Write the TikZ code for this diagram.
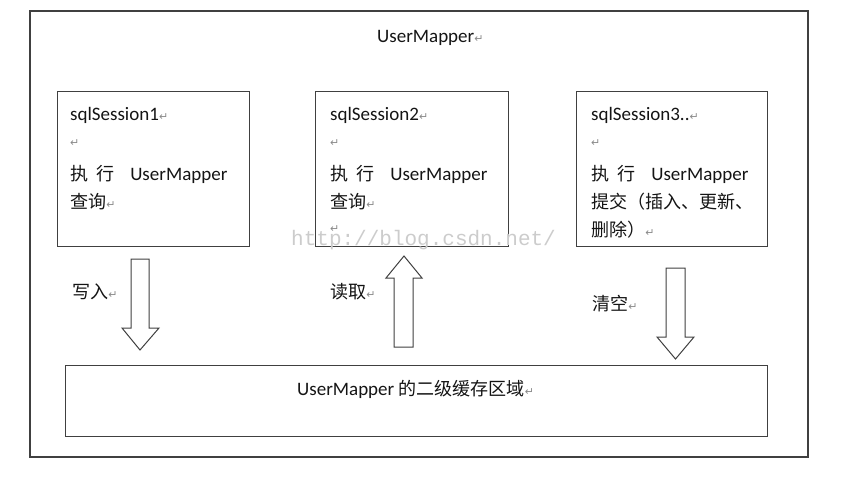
\documentclass[tikz,border=0pt]{standalone}
\usepackage{fontspec}
\setmainfont{Carlito}
\newfontfamily\cjk[Scale=0.95]{Noto Sans CJK SC}
\newfontfamily\dejavu{DejaVu Sans}
\newfontfamily\wmfont{Liberation Mono}
\definecolor{linecol}{HTML}{404040}
\definecolor{txtcol}{HTML}{141414}
\definecolor{retcol}{HTML}{8A8A8A}
\newcommand{\ret}{{\color{retcol}\dejavu\fontsize{11}{11}\selectfont ↵}}
\newcommand{\zh}[1]{{\cjk #1}}
\begin{document}
\begin{tikzpicture}[x=1pt,y=-1pt,
  frame/.style={draw=linecol,line width=1.5pt,inner sep=0pt,anchor=north west},
  panel/.style={draw=linecol,line width=1.2pt,inner sep=0pt,anchor=north west},
  txt/.style={anchor=west,inner sep=0pt,text=txtcol,font=\fontsize{19}{22}\selectfont},
  blockarrow/.style={draw=linecol,line width=1pt,fill=white,line join=miter}]
\useasboundingbox (0,0) rectangle (841,482);
% frames
\node[frame,minimum width=778pt,minimum height=446pt] (outer) at (29,10) {};
\node[panel,minimum width=192pt,minimum height=155pt] (s1) at (57,91) {};
\node[panel,minimum width=193pt,minimum height=155pt] (s2) at (315,91) {};
\node[panel,minimum width=191pt,minimum height=155pt] (s3) at (576,91) {};
\node[panel,minimum width=702pt,minimum height=71pt] (cache) at (65,365) {};
% watermark
\node[anchor=west,inner sep=0pt,text=black!20,font=\wmfont\fontsize{21}{21}\selectfont] (wm) at (291,240) {http://blog.csdn.net/};
% title
\node[txt] (title) at (377,38) {UserMapper\ret};
% session 1
\node[txt] (s1a) at (70,115) {sqlSession1\ret};
\node[txt] (s1b) at (70,143) {\ret};
\node[txt] (s1c) at (70,174) {\zh{执}\hspace{8pt}\zh{行}\hspace{16pt}UserMapper};
\node[txt] (s1d) at (70,202) {\zh{查询}\ret};
% session 2
\node[txt] (s2a) at (330,115) {sqlSession2\ret};
\node[txt] (s2b) at (330,143) {\ret};
\node[txt] (s2c) at (330,174) {\zh{执}\hspace{8pt}\zh{行}\hspace{16pt}UserMapper};
\node[txt] (s2d) at (330,202) {\zh{查询}\ret};
\node[txt] (s2e) at (330,229) {\ret};
% session 3
\node[txt] (s3a) at (591,115) {sqlSession3..\ret};
\node[txt] (s3b) at (591,143) {\ret};
\node[txt] (s3c) at (591,174) {\zh{执}\hspace{8pt}\zh{行}\hspace{16pt}UserMapper};
\node[txt] (s3d) at (591,202) {\zh{提交（插入、更新、}};
\node[txt] (s3e) at (591,230) {\zh{删除）}\ret};
% arrows
\draw[blockarrow] (131,259) -- (149,259) -- (149,328) -- (159,328) -- (140,350) -- (122,328) -- (131,328) -- cycle;
\draw[blockarrow] (394,347) -- (413,347) -- (413,278) -- (422,278) -- (404,256) -- (386,278) -- (394,278) -- cycle;
\draw[blockarrow] (666,268) -- (685,268) -- (685,337) -- (694,337) -- (675.5,359) -- (657,337) -- (666,337) -- cycle;
% arrow labels
\node[txt] (l1) at (72,292) {\zh{写入}\ret};
\node[txt] (l2) at (330,292) {\zh{读取}\ret};
\node[txt] (l3) at (592,304) {\zh{清空}\ret};
% cache label
\node[txt] (cl) at (297,389) {UserMapper \zh{的二级缓存区域}\ret};
\end{tikzpicture}
\end{document}
